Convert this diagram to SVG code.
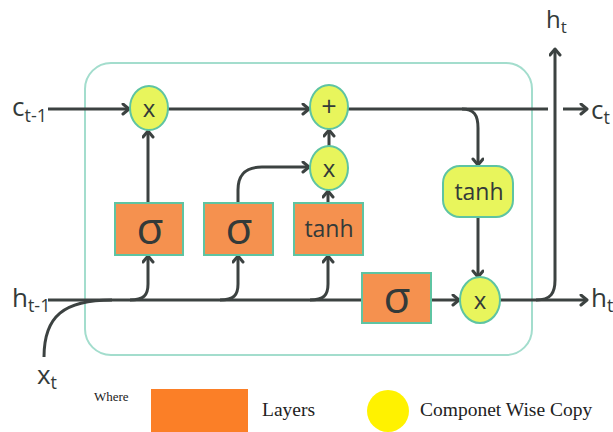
<svg xmlns="http://www.w3.org/2000/svg" width="613" height="432" viewBox="0 0 613 432">
  <defs>
    <marker id="chev" markerUnits="userSpaceOnUse" markerWidth="14" markerHeight="14" refX="9" refY="6" orient="auto">
      <path d="M3,1 L9,6 L3,11" fill="none" stroke="#3c4241" stroke-width="3" stroke-linecap="round" stroke-linejoin="round"/>
    </marker>
  </defs>
  <style>
    .wire { fill: none; stroke: #3c4241; stroke-width: 3; }
    .arr { marker-end: url(#chev); }
    .layer { fill: #f5914f; stroke: #5ec4a2; stroke-width: 2; }
    .op { fill: #e8f55c; stroke: #5ec4a2; stroke-width: 2; }
    .sym { font-family: "Open Sans", "DejaVu Sans", sans-serif; fill: #333a39; text-anchor: middle; }
    .lbl { font-family: "Open Sans", "DejaVu Sans", sans-serif; fill: #333a39; }
    .legend { font-family: "Liberation Serif", serif; fill: #222; }
  </style>

  <rect width="613" height="432" fill="#ffffff"/>

  <!-- cell outline -->
  <rect x="85" y="63" width="447" height="292" rx="26" fill="none" stroke="#a3ddcd" stroke-width="2"/>

  <!-- connectors -->
  <g id="connectors">
    <path class="wire arr" d="M48,109 H129"/>
    <path class="wire arr" d="M168,109 H309"/>
    <path class="wire" d="M348,109 H548"/>
    <path class="wire arr" d="M462,109 C474,109 478,115 478,128 V165"/>
    <path class="wire arr" d="M563,109 H587"/>
    <path class="wire arr" d="M478,217 V277"/>
    <path class="wire arr" d="M431,300 H459"/>
    <path class="wire arr" d="M499,300 H587"/>
    <path class="wire arr" d="M536,300 C551,300 555,293 555,280 V49"/>
    <path class="wire" d="M48,300 H362"/>
    <path class="wire" d="M44,357 C44,316 64,300 112,300"/>
    <path class="wire arr" d="M130,300 C144,300 148,295 148,284 V256"/>
    <path class="wire arr" d="M148,203 V131"/>
    <path class="wire arr" d="M220,300 C234,300 238,295 238,284 V256"/>
    <path class="wire arr" d="M238,203 V190 C238,175 245,167 262,167 H309"/>
    <path class="wire arr" d="M310,300 C324,300 328,295 328,284 V256"/>
    <path class="wire arr" d="M328,203 V191"/>
    <path class="wire arr" d="M329,146 V130"/>
  </g>

  <!-- pointwise operations -->
  <g id="mul-forget">
    <ellipse class="op" cx="149" cy="108" rx="19" ry="22"/>
    <text class="sym" x="149" y="117" font-size="24">x</text>
  </g>
  <g id="add-cell">
    <ellipse class="op" cx="329" cy="107" rx="19" ry="22"/>
    <text class="sym" x="329" y="116" font-size="27">+</text>
  </g>
  <g id="mul-input">
    <ellipse class="op" cx="329" cy="168" rx="19" ry="22"/>
    <text class="sym" x="329" y="177" font-size="24">x</text>
  </g>
  <g id="mul-output">
    <ellipse class="op" cx="480" cy="300" rx="20" ry="23"/>
    <text class="sym" x="480" y="309" font-size="24">x</text>
  </g>
  <g id="tanh-cell">
    <rect class="op" x="443" y="166" width="70" height="51" rx="17"/>
    <text class="sym" x="479" y="200" font-size="23">tanh</text>
  </g>

  <!-- network layers -->
  <g id="sigma-forget">
    <rect class="layer" x="115" y="203" width="68" height="52"/>
    <text class="sym" x="150" y="244" font-size="44">σ</text>
  </g>
  <g id="sigma-input">
    <rect class="layer" x="204" y="203" width="69" height="52"/>
    <text class="sym" x="239" y="244" font-size="44">σ</text>
  </g>
  <g id="tanh-input">
    <rect class="layer" x="294" y="203" width="69" height="52"/>
    <text class="sym" x="329" y="237" font-size="23">tanh</text>
  </g>
  <g id="sigma-output">
    <rect class="layer" x="362" y="273" width="69" height="50"/>
    <text class="sym" x="397" y="313" font-size="44">σ</text>
  </g>

  <!-- state labels -->
  <g id="label-c-prev">
    <text class="lbl" x="12" y="116" font-size="26">c<tspan font-size="18" dy="6">t-1</tspan></text>
  </g>
  <g id="label-h-prev">
    <text class="lbl" x="12" y="307" font-size="26">h<tspan font-size="18" dy="5">t-1</tspan></text>
  </g>
  <g id="label-x">
    <text class="lbl" x="37" y="384" font-size="26">x<tspan font-size="18" dy="5">t</tspan></text>
  </g>
  <g id="label-h-top">
    <text class="lbl" x="546" y="28" font-size="24">h<tspan font-size="17" dy="5">t</tspan></text>
  </g>
  <g id="label-c-out">
    <text class="lbl" x="591" y="119" font-size="26">c<tspan font-size="18" dy="5">t</tspan></text>
  </g>
  <g id="label-h-out">
    <text class="lbl" x="591" y="307" font-size="26">h<tspan font-size="18" dy="5">t</tspan></text>
  </g>

  <!-- legend -->
  <g id="legend">
    <text class="legend" x="94" y="401" font-size="13">Where</text>
    <rect x="151" y="389" width="97" height="43" fill="#fb7f27"/>
    <text class="legend" x="262" y="416" font-size="19.5">Layers</text>
    <circle cx="388" cy="411" r="21" fill="#fff200"/>
    <text class="legend" x="420" y="416" font-size="19.5">Componet Wise Copy</text>
  </g>
</svg>
